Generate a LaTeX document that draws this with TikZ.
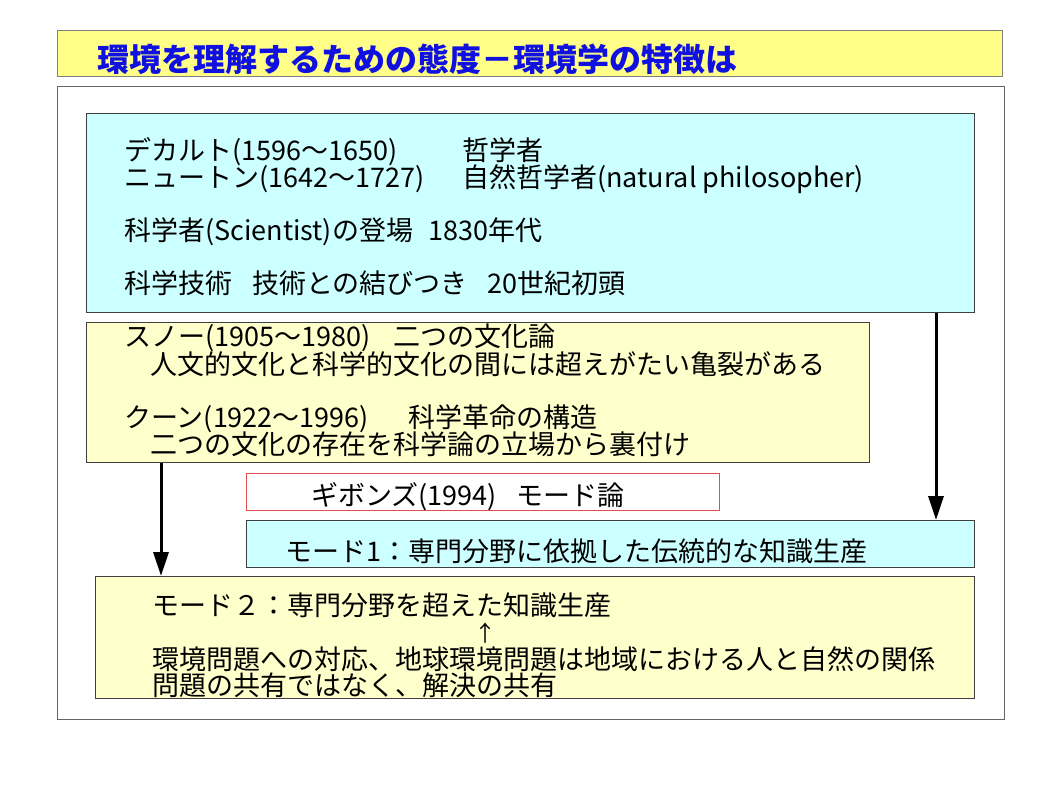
\documentclass[tikz,border=0pt]{standalone}
\usepackage{fontspec}
\setmainfont{Noto Sans CJK JP}
\usetikzlibrary{arrows.meta}
\definecolor{titleyellow}{HTML}{FFFF88}
\definecolor{paleyellow}{HTML}{FFFFCC}
\definecolor{palecyan}{HTML}{CCFFFF}
\definecolor{framegray}{HTML}{404040}
\definecolor{gibred}{HTML}{E05050}
\definecolor{titleblue}{HTML}{1010E0}
\tikzset{
  box/.style={draw=framegray,line width=1pt,inner sep=0pt,anchor=north west},
  txt/.style={anchor=base west,inner sep=0pt,font=\fontsize{27}{28}\selectfont},
  arr/.style={line width=3pt,-{Triangle[length=24pt,width=15pt]}}
}
\begin{document}
\begin{tikzpicture}
[x=1pt,y=-1pt]
\useasboundingbox[fill=white] (0,0) rectangle (1058,794);
\node[box,fill=titleyellow,draw=gray,minimum width=945pt,minimum height=46pt] (title) at (57,30) {};
\draw (97,59) node[anchor=west,inner sep=0pt,text=titleblue,font=\fontsize{32}{33}\selectfont\bfseries] (titletext) {環境を理解するための態度－環境学の特徴は};
\node[box,fill=white,draw=framegray!80,minimum width=947pt,minimum height=633pt] (frame) at (57,86) {};

\node[box,fill=palecyan,minimum width=888pt,minimum height=199pt] (history) at (86,113) {};
\draw (124,161) node[txt] (descartes) {デカルト(1596～1650)};
\draw (462,161) node[txt] (philosopher) {哲学者};
\draw (124,188) node[txt] (newton) {ニュートン(1642～1727)};
\draw (462,188) node[txt] (natphil) {自然哲学者(natural philosopher)};
\draw (124,241) node[txt] (scientist) {科学者(Scientist)の登場\hspace{16pt}1830年代};
\draw (124,294) node[txt] (technology) {科学技術\hspace{20pt}技術との結びつき\hspace{20pt}20世紀初頭};

\node[box,fill=paleyellow,minimum width=783pt,minimum height=140pt] (cultures) at (86,322) {};
\draw (124,347) node[txt] (snow) {スノー(1905～1980)};
\draw (393,347) node[txt] (twocult) {二つの文化論};
\draw (150,374) node[txt] (rift) {人文的文化と科学的文化の間には超えがたい亀裂がある};
\draw (124,427) node[txt] (kuhn) {クーン(1922～1996)};
\draw (408,427) node[txt] (revolution) {科学革命の構造};
\draw (150,454) node[txt] (support) {二つの文化の存在を科学論の立場から裏付け};

\node[box,fill=white,draw=gibred,minimum width=473pt,minimum height=37pt] (gibbons) at (246,473) {};
\draw (311,505) node[txt] (gibtext) {ギボンズ(1994)\hspace{20pt}モード論};

\node[box,fill=palecyan,minimum width=728pt,minimum height=47pt] (modeA) at (246,520) {};
\draw (285,561) node[txt] (modeAtext) {モード1：専門分野に依拠した伝統的な知識生産};

\node[box,fill=paleyellow,minimum width=879pt,minimum height=122pt] (modeB) at (95,576) {};
\draw (152,615) node[txt] (modeBtext) {モード２：専門分野を超えた知識生産};
\draw (485,641) node[anchor=base,inner sep=0pt,font=\fontsize{22}{22}\selectfont] (up) {↑};
\draw (152,669) node[txt] (environment) {環境問題への対応、地球環境問題は地域における人と自然の関係};
\draw (152,695) node[txt] (solution) {問題の共有ではなく、解決の共有};

\draw[arr] ([xshift=-39pt]history.south east) -- ([xshift=-39pt]modeA.north east);
\draw[arr] ([xshift=75pt]cultures.south west) -- ([xshift=66pt]modeB.north west);

\end{tikzpicture}
\end{document}
